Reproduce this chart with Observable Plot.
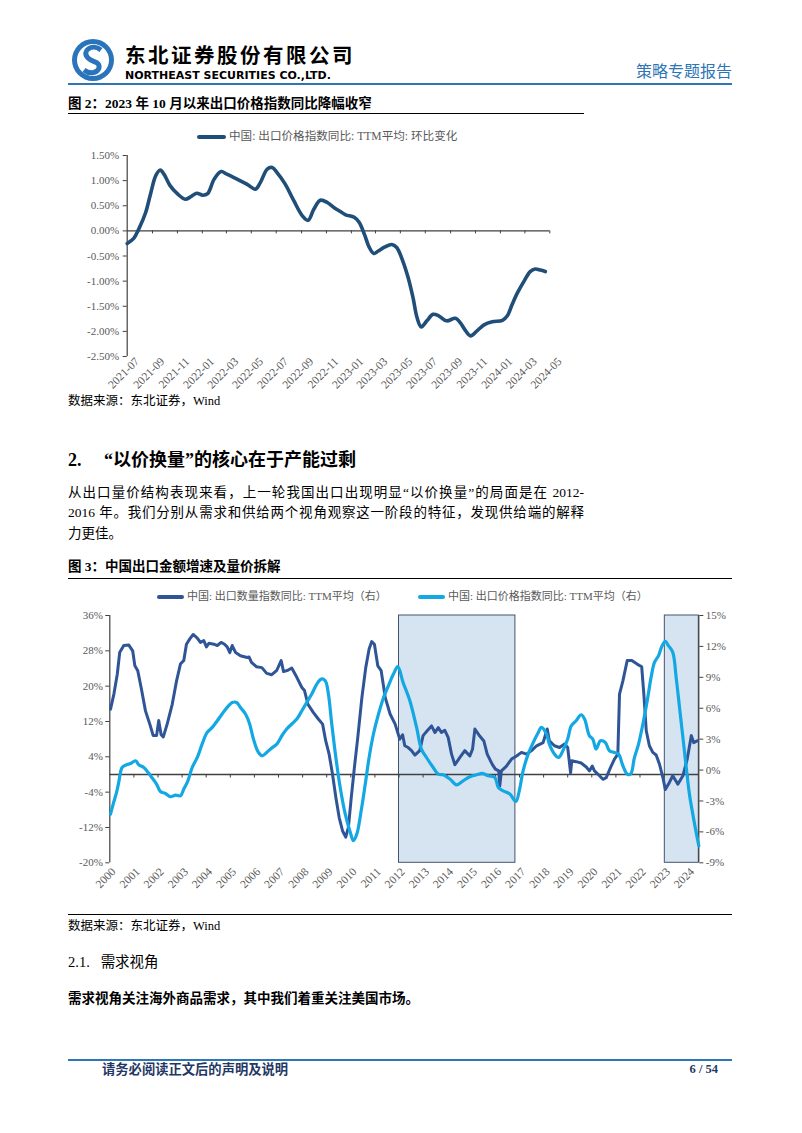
<!DOCTYPE html>
<html><head><meta charset="utf-8">
<script src="https://cdn.jsdelivr.net/npm/d3@7"></script>
<script src="https://cdn.jsdelivr.net/npm/@observablehq/plot@0.6"></script>
<style>
body{margin:0;background:#fff;}
#page{position:relative;width:802px;height:1133px;overflow:hidden;font-family:"Liberation Serif","Noto Sans CJK SC",serif;color:#000;}
.abs{position:absolute;white-space:nowrap;}
.rule{position:absolute;height:1px;background:#000;}
.leg{position:absolute;height:4px;border-radius:2px;}
.legt{position:absolute;white-space:nowrap;font-size:11px;line-height:11px;color:#595959;font-family:"Liberation Serif","Noto Sans CJK SC",serif;}
.para{position:absolute;left:68px;width:516px;font-size:13.5px;line-height:14px;text-align:justify;text-align-last:justify;white-space:nowrap;}
</style></head><body><div id="page">
<svg class="abs" style="left:70px;top:37px" width="46" height="46" viewBox="0 0 46 46">
 <circle cx="23" cy="23" r="21" fill="#2a74bb"/>
 <circle cx="23" cy="23" r="16" fill="#fff"/>
 <path d="M31 13 C22 6 11 14 18 21 C23 26 30 24 29 31 C27 37 19 37 14 33" fill="none" stroke="#2a74bb" stroke-width="5"/>
</svg>
<div class="abs" style="left:125px;top:44px;font-size:20.5px;line-height:20px;height:20px;font-weight:bold;font-family:'Noto Sans CJK SC',sans-serif;letter-spacing:2.5px">东北证券股份有限公司</div>
<div class="abs" style="left:125px;top:69.5px;font-size:11px;line-height:11px;font-weight:bold;font-family:'DejaVu Sans',sans-serif;letter-spacing:0px">NORTHEAST SECURITIES CO.,LTD.</div>
<div class="abs" style="left:636px;top:64px;font-size:16px;line-height:16px;color:#2e75b6">策略专题报告</div>
<div class="rule" style="left:68px;top:83px;width:664px;height:2px;background:#2e75b6"></div>

<div class="abs" style="left:68px;top:97px;font-size:13.5px;line-height:14px;font-weight:bold">图 2：2023 年 10 月以来出口价格指数同比降幅收窄</div>
<div class="rule" style="left:68px;top:113px;width:516px"></div>
<div class="leg" style="left:197px;top:135px;width:29px;background:#1f4e79"></div>
<div class="legt" style="left:229px;top:131px;font-size:11.6px;line-height:12px">中国: 出口价格指数同比: TTM平均: 环比变化</div>
<div id="chart2" class="abs" style="left:68px;top:118px"></div>
<div class="abs" style="left:68px;top:395px;font-size:12.5px;line-height:13px">数据来源：东北证券，Wind</div>

<div class="abs" style="left:68px;top:451px;font-size:18px;line-height:18px;font-weight:bold">2.&nbsp;&nbsp;&nbsp;&nbsp;&nbsp;“以价换量”的核心在于产能过剩</div>
<div class="para" style="top:486px">从出口量价结构表现来看，上一轮我国出口出现明显“以价换量”的局面是在 2012-</div>
<div class="para" style="top:506px">2016 年。我们分别从需求和供给两个视角观察这一阶段的特征，发现供给端的解释</div>
<div class="para" style="top:527px;text-align-last:left">力更佳。</div>

<div class="abs" style="left:68px;top:560px;font-size:13.5px;line-height:14px;font-weight:bold">图 3：中国出口金额增速及量价拆解</div>
<div class="rule" style="left:68px;top:578px;width:664px"></div>
<div class="leg" style="left:157px;top:595px;width:27px;background:#2f5597"></div>
<div class="legt" style="left:187px;top:591px">中国: 出口数量指数同比: TTM平均（右）</div>
<div class="leg" style="left:418px;top:595px;width:27px;background:#13a8e4"></div>
<div class="legt" style="left:448px;top:591px">中国: 出口价格指数同比: TTM平均（右）</div>
<div id="chart3" class="abs" style="left:68px;top:605px"></div>
<div class="rule" style="left:68px;top:914px;width:664px"></div>
<div class="abs" style="left:68px;top:920px;font-size:12.5px;line-height:13px">数据来源：东北证券，Wind</div>

<div class="abs" style="left:68px;top:955px;font-size:14.5px;line-height:15px">2.1.&nbsp;&nbsp;&nbsp;需求视角</div>
<div class="abs" style="left:68px;top:992px;font-size:13.5px;line-height:14px;font-weight:bold">需求视角关注海外商品需求，其中我们着重关注美国市场。</div>

<div class="rule" style="left:68px;top:1059px;width:664px;height:1.5px;background:#2e75b6"></div>
<div class="abs" style="left:102px;top:1063px;font-size:13.3px;line-height:13px;font-weight:bold;color:#1f3864">请务必阅读正文后的声明及说明</div>
<div class="abs" style="left:668px;top:1063px;width:50px;text-align:right;font-size:12.5px;line-height:13px;font-weight:bold;color:#1f3864">6 / 54</div>
</div>
<script>
// ---------- Figure 2 data ----------
const c2Dates = ["2021-07-01","2021-07-17","2021-07-29","2021-08-15","2021-08-27","2021-09-09","2021-09-20","2021-09-29","2021-10-14","2021-11-02","2021-11-20","2021-12-04","2021-12-18",
"2022-01-02","2022-01-14","2022-01-30","2022-02-16","2022-03-02","2022-03-27","2022-04-20","2022-05-11","2022-05-23","2022-06-09","2022-06-21","2022-07-03","2022-07-23","2022-08-13","2022-09-03","2022-09-17","2022-10-01","2022-10-17","2022-11-04","2022-11-20","2022-12-06","2022-12-18",
"2023-01-08","2023-01-20","2023-02-02","2023-02-14","2023-02-25","2023-03-08","2023-03-24","2023-04-10","2023-04-22","2023-05-07","2023-05-20","2023-06-01","2023-06-11","2023-06-21","2023-07-05","2023-07-20","2023-08-03","2023-08-22","2023-09-13","2023-09-25","2023-10-08","2023-10-20","2023-11-06","2023-11-22","2023-12-12",
"2024-01-06","2024-01-18","2024-01-30","2024-02-12","2024-02-28","2024-03-14","2024-03-26","2024-04-08","2024-04-20"];
const c2Values = [-0.25,-0.15,0.03,0.36,0.73,1.10,1.21,1.13,0.90,0.73,0.63,0.68,0.75,
0.71,0.74,1.03,1.18,1.13,1.03,0.93,0.83,0.96,1.23,1.26,1.16,0.93,0.60,0.30,0.21,0.43,0.61,0.56,0.46,0.38,0.32,
0.27,0.17,-0.07,-0.33,-0.45,-0.40,-0.32,-0.27,-0.33,-0.60,-0.93,-1.33,-1.73,-1.91,-1.79,-1.66,-1.69,-1.79,-1.74,-1.83,-1.99,-2.09,-1.98,-1.87,-1.81,
-1.78,-1.69,-1.46,-1.23,-1.00,-0.81,-0.76,-0.78,-0.81];
const c2TickLabels = ["2021-07","2021-09","2021-11","2022-01","2022-03","2022-05","2022-07","2022-09","2022-11","2023-01","2023-03","2023-05","2023-07","2023-09","2023-11","2024-01","2024-03","2024-05"];
const c2YTicks = [-2.5,-2.0,-1.5,-1.0,-0.5,0,0.5,1.0,1.5];

// ---------- Figure 3 data ----------
const qtyYears = [2000.03,2000.17,2000.31,2000.41,2000.58,2000.79,2000.95,2001.04,2001.16,2001.30,2001.48,2001.66,2001.80,2001.94,2002.03,2002.13,2002.22,2002.38,2002.59,2002.77,2002.93,
2003.07,2003.18,2003.32,2003.46,2003.63,2003.76,2003.90,2004.01,2004.11,2004.32,2004.46,2004.62,2004.76,2004.87,2004.98,2005.08,2005.22,2005.42,2005.70,2005.78,2005.88,
2006.08,2006.31,2006.51,2006.72,2006.93,2007.11,2007.21,2007.39,2007.55,2007.76,2007.97,2008.08,2008.22,2008.45,2008.66,2008.83,2008.96,2009.10,2009.24,2009.38,2009.52,2009.66,2009.79,2009.90,
2010.02,2010.15,2010.29,2010.46,2010.62,2010.76,2010.87,2010.98,2011.12,2011.26,2011.43,2011.63,2011.84,2012.03,2012.15,2012.24,2012.38,2012.52,2012.66,2012.86,
2013.00,2013.17,2013.35,2013.49,2013.63,2013.76,2013.90,2014.04,2014.18,2014.32,2014.52,2014.73,2014.94,2015.05,2015.15,2015.35,2015.52,2015.66,2015.87,
2016.00,2016.14,2016.18,2016.25,2016.46,2016.67,2016.88,2017.08,2017.29,2017.50,2017.71,2017.98,2018.15,2018.24,2018.45,2018.66,2018.87,
2019.00,2019.12,2019.17,2019.35,2019.56,2019.77,2019.90,2020.02,2020.11,2020.25,2020.46,2020.60,2020.78,2020.94,2021.08,2021.15,2021.29,2021.47,2021.66,2021.88,
2022.07,2022.16,2022.26,2022.39,2022.53,2022.67,2022.81,2022.95,2023.05,2023.22,2023.36,2023.57,2023.78,2023.96,2024.13,2024.23,2024.37];
const qtyValues = [14.8,18.2,22.7,27.6,29.2,29.3,28.0,24.6,23.5,19.7,14.4,11.4,8.8,8.8,12.2,9.0,8.5,11.4,15.9,21.2,25.0,
25.8,29.5,30.7,31.7,30.9,29.9,30.3,28.9,29.7,29.5,29.2,29.9,29.5,28.9,27.6,29.2,27.6,26.9,26.5,26.6,25.4,
24.4,24.2,22.9,22.6,23.6,25.8,23.3,23.6,24.1,22.0,19.7,19.0,15.9,14.0,12.5,11.4,7.6,4.6,0.1,-5.2,-9.8,-12.8,-14.2,-12.0,
-5.2,1.6,8.4,17.4,24.2,28.4,30.1,29.5,24.6,23.5,17.4,13.7,11.4,8.0,9.0,6.5,6.1,5.4,4.4,5.4,
8.8,9.9,11.0,9.5,10.6,9.5,10.0,8.4,4.6,2.2,3.8,5.4,4.2,5.7,10.3,8.7,7.6,4.6,2.3,
1.2,0.8,-2.6,0.8,1.9,3.5,4.2,5.0,4.6,5.4,6.5,7.2,10.3,7.6,6.5,6.1,6.9,
6.1,0.4,3.1,2.9,2.6,1.7,0.8,1.9,0.8,0.1,-1.1,-0.7,1.6,3.5,4.6,18.2,21.2,25.8,25.8,25.0,
24.4,18.2,9.9,6.5,5.0,4.4,2.3,-0.7,-3.4,-1.8,-0.3,-2.2,-0.3,3.5,8.8,7.2,7.6];
const priceYears = [2000.03,2000.14,2000.28,2000.37,2000.51,2000.69,2000.86,2001.07,2001.20,2001.41,2001.69,2001.94,2002.10,2002.31,2002.52,2002.73,2002.93,
2003.07,2003.24,2003.42,2003.63,2003.83,2004.04,2004.25,2004.46,2004.66,2004.87,2005.08,2005.26,2005.42,2005.63,2005.80,2005.96,
2006.17,2006.34,2006.51,2006.72,2006.93,2007.14,2007.34,2007.55,2007.76,2007.97,2008.17,2008.38,2008.59,2008.77,2008.94,
2009.07,2009.21,2009.38,2009.56,2009.77,2009.98,2010.11,2010.25,2010.43,2010.60,2010.76,2010.94,2011.15,2011.36,2011.56,2011.77,2011.95,
2012.17,2012.45,2012.73,2012.93,2013.14,2013.42,2013.63,2013.83,2014.11,2014.39,2014.66,2014.94,2015.22,2015.46,2015.70,2015.98,
2016.12,2016.32,2016.60,2016.85,2016.99,2017.15,2017.36,2017.57,2017.78,2017.91,2018.12,2018.24,2018.45,2018.62,2018.80,
2019.00,2019.15,2019.35,2019.56,2019.70,2019.90,2020.04,2020.18,2020.36,2020.56,2020.73,2020.94,2021.11,2021.29,2021.47,2021.61,2021.77,2021.94,
2022.12,2022.30,2022.46,2022.60,2022.77,2022.90,2023.05,2023.18,2023.36,2023.50,2023.64,2023.78,2023.92,2024.05,2024.19,2024.33,2024.44];
const priceValues = [-4.27,-3.30,-2.17,-1.20,0.25,0.51,0.64,0.90,0.51,0.25,-0.55,-1.36,-2.08,-2.27,-2.59,-2.43,-2.50,
-1.84,-1.04,0.25,1.22,2.52,3.65,4.14,4.79,5.44,6.08,6.56,6.56,6.08,5.44,4.50,3.01,
1.71,1.39,1.71,2.14,2.52,3.33,3.98,4.47,4.95,5.76,6.56,7.38,8.35,8.83,8.67,
7.38,4.47,1.22,-1.69,-4.27,-6.06,-6.86,-6.21,-3.95,-1.36,1.22,3.50,5.44,7.05,8.18,9.32,10.03,
8.50,6.73,4.14,2.04,1.22,0.25,-0.39,-0.46,-0.87,-1.43,-1.04,-0.65,-0.46,-0.33,-0.55,-0.72,
-1.69,-2.01,-2.33,-3.05,-2.01,-0.07,1.55,2.68,3.65,4.14,3.50,2.52,1.55,1.22,1.87,
3.01,4.30,4.79,5.37,4.95,3.33,3.01,2.04,2.84,2.68,1.87,1.71,1.55,0.42,-0.39,-0.39,1.22,2.52,
4.47,6.73,8.99,10.45,11.10,11.97,12.49,12.07,11.42,8.99,6.08,3.17,0.25,-2.33,-4.27,-6.06,-7.35];
const shadeStart = [2012.0, 2023.03];
const shadeEnd = [2016.83, 2024.44];
const leftTicks = [-20,-12,-4,4,12,20,28,36];
const rightTicks = [-9,-6,-3,0,3,6,9,12,15];
const yearTicks = [2000,2001,2002,2003,2004,2005,2006,2007,2008,2009,2010,2011,2012,2013,2014,2015,2016,2017,2018,2019,2020,2021,2022,2023,2024];

const axisColor = "#404040";
const textColor = "#595959";
const font = {fontFamily:"'Liberation Serif','Noto Sans CJK SC',serif", fontSize:"11px", background:"transparent", overflow:"visible"};

// ---------- Figure 2 ----------
const c2 = c2Dates.map((d,i)=>({date:new Date(d+"T00:00:00Z"), v:c2Values[i]}));
const x2Ticks = c2TickLabels.map(s=>new Date(s+"-01T00:00:00Z"));
const x2Start = x2Ticks[0], x2End = x2Ticks[x2Ticks.length-1];
const chart2 = Plot.plot({
  width:520, height:290, marginLeft:58.7, marginRight:38.7, marginTop:37, marginBottom:52,
  style:font,
  x:{type:"utc", domain:[x2Start,x2End]},
  y:{domain:[-2.5,1.5]},
  marks:[
    Plot.ruleX([x2Start],{stroke:axisColor, strokeWidth:1.2}),
    Plot.axisY({ticks:c2YTicks, tickSize:4, tickPadding:4, tickFormat:d=>d.toFixed(2)+"%", label:null, stroke:axisColor, fill:textColor}),
    Plot.ruleY([0],{stroke:axisColor, strokeWidth:1.3}),
    Plot.ruleX(x2Ticks.slice(1),{y1:0, y2:-0.06, stroke:axisColor}),
    Plot.axisX({ticks:x2Ticks, tickSize:0, tickPadding:3, tickRotate:-45, dx:10, tickFormat:d3.utcFormat("%Y-%m"), label:null, fill:textColor, fontSize:11.5}),
    Plot.line(c2,{x:"date", y:"v", stroke:"#1f4e79", strokeWidth:3.6, curve:"catmull-rom", strokeLinejoin:"round", strokeLinecap:"round"})
  ]
});
document.getElementById("chart2").appendChild(chart2);

// ---------- Figure 3 ----------
const toLeft = r => r*7/3 + 1; // right-axis value mapped onto left-axis scale
const qty = qtyYears.map((x,i)=>({x, v:qtyValues[i]}));
const price = priceYears.map((x,i)=>({x, v:toLeft(priceValues[i])}));
const shades = shadeStart.map((s,i)=>({x1:s, x2:shadeEnd[i]}));
const xEnd = shadeEnd[1];
const chart3 = Plot.plot({
  width:664, height:300, marginLeft:41.3, marginRight:33.7, marginTop:10, marginBottom:42.7,
  style:font,
  x:{domain:[2000, xEnd]},
  y:{domain:[-20,36]},
  marks:[
    Plot.rect(shades,{x1:"x1", x2:"x2", y1:-20, y2:36, fill:"#d6e4f2", stroke:"#44546a", strokeWidth:1}),
    Plot.ruleX([2000, xEnd],{stroke:axisColor, strokeWidth:1.2}),
    Plot.axisY({anchor:"left", ticks:leftTicks, tickSize:4, tickPadding:3, tickFormat:d=>d+"%", label:null, stroke:axisColor, fill:textColor}),
    Plot.axisY({anchor:"right", ticks:rightTicks.map(toLeft), tickSize:4, tickPadding:3, tickFormat:d=>Math.round((d-1)*3/7)+"%", label:null, stroke:axisColor, fill:textColor}),
    Plot.ruleY([0],{stroke:axisColor, strokeWidth:1.3}),
    Plot.ruleX(yearTicks.slice(1),{y1:0, y2:-0.8, stroke:axisColor}),
    Plot.axisX({ticks:yearTicks, tickSize:0, tickPadding:7, tickRotate:-45, dx:4, tickFormat:d=>String(d), label:null, fill:textColor, fontSize:11.5}),
    Plot.line(qty,{x:"x", y:"v", stroke:"#2f5597", strokeWidth:3, strokeLinejoin:"round"}),
    Plot.line(price,{x:"x", y:"v", stroke:"#13a8e4", strokeWidth:3.2, curve:"catmull-rom", strokeLinejoin:"round"})
  ]
});
document.getElementById("chart3").appendChild(chart3);
</script>
</body></html>
